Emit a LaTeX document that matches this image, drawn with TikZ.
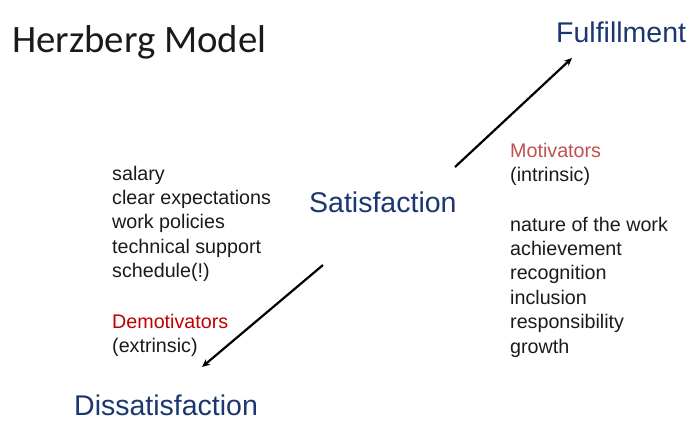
\documentclass[tikz,border=0pt]{standalone}
\usepackage{fontspec}
\setmainfont{Liberation Sans}
\newfontfamily\titlefont{Carlito}
\usetikzlibrary{arrows.meta,positioning}

\definecolor{navy}{HTML}{1B3670}
\definecolor{demred}{HTML}{C00000}
\definecolor{motred}{HTML}{C0504D}
\definecolor{ink}{HTML}{1A1A1A}

\tikzset{
    level/.style={anchor=base west, inner sep=0pt, text=navy, font=\fontsize{28.5}{34}\selectfont},
    items/.style={anchor=base west, inner sep=0pt, align=left, text=ink, font=\fontsize{19.7}{24.4}\selectfont},
    move/.style={line width=2.2pt, -{Stealth[length=8pt,width=7pt]}},
}

\begin{document}
\begin{tikzpicture}[x=1pt, y=-1pt]
    \useasboundingbox (0,0) rectangle (700,441);

    \node [anchor=base west, inner sep=0pt, text=ink, font=\titlefont\fontsize{38.8}{44}\selectfont] (title) at (12,53) {Herzberg Model};

    \node [level] (ful) at (556,43) {Fulfillment};
    \node [level] (sat) at (309,212) {Satisfaction};
    \node [level] (dis) at (74,415) {Dissatisfaction};

    % base of a list node is its last line
    \node [items] (hyg) at (112,277.6) {salary\\clear expectations\\work policies\\technical support\\schedule(!)};
    \node [items] (dem) at (112,352.4) {\textcolor{demred}{Demotivators}\\(extrinsic)};

    \node [items] (mot) at (510,181.4) {\textcolor{motred}{Motivators}\\(intrinsic)};
    \node [items] (fac) at (510,353) {nature of the work\\achievement\\recognition\\inclusion\\responsibility\\growth};

    % arrows between the levels
    \coordinate (uptail) at (455,167);
    \coordinate (uphead) at (572,58);
    \coordinate (downtail) at (323,265);
    \coordinate (downhead) at (202,367);
    \draw [move] (uptail) -- (uphead);
    \draw [move] (downtail) -- (downhead);
\end{tikzpicture}
\end{document}
